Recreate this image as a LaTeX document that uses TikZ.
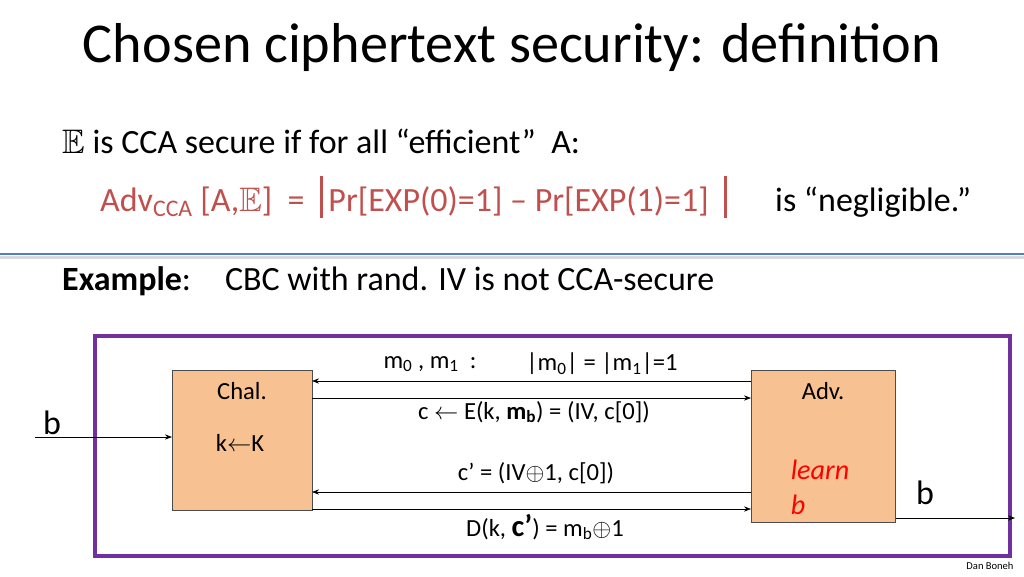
\documentclass[tikz,border=0pt]{standalone}
\usepackage{amssymb}
\usepackage{fontspec}
\setmainfont{Carlito}
\usetikzlibrary{arrows.meta}
\definecolor{redt}{HTML}{C0504D}
\definecolor{purp}{HTML}{7030A0}
\definecolor{sepb}{HTML}{4F81BD}
\definecolor{boxf}{HTML}{F8C191}
\newcommand{\bbar}{\rule[-6pt]{2.4pt}{36pt}}
\begin{document}
\begin{tikzpicture}[x=0.03cm,y=-0.03cm,
  txt/.style={inner sep=0pt,anchor=base west,font=\fontsize{29}{34}\selectfont},
  lbl/.style={inner sep=0pt,font=\fontsize{21}{24}\selectfont},
  party/.style={draw=black!70,fill=boxf,line width=0.8pt},
  msg/.style={-{Stealth[length=6pt]},line width=0.6pt}]
\useasboundingbox (0,0) rectangle (1024,576);
\node[inner sep=0pt,font=\fontsize{48}{54}\selectfont] (title) at (512,48) {Chosen ciphertext security: definition};
\node[txt] (l1) at (62,153) {$\mathbb{E}$ is CCA secure if for all “efficient”\ \ A:};
\node[txt,text=redt] (l2) at (100,211) {Adv\textsubscript{CCA} [A,$\mathbb{E}$] \ = \ \bbar\,Pr[EXP(0)=1] – Pr[EXP(1)=1] \ \bbar};
\node[txt] (l3) at (775,211) {is “negligible.”};
\fill[black!15] (0,256) rectangle (1024,259);
\draw[sepb,line width=2.5pt] (0,254) -- (1024,254);
\node[txt] (ex) at (62,290) {\textbf{Example}:\quad CBC with rand. IV is not CCA-secure};
\draw[purp,line width=4pt] (95,336) rectangle (1010,556);
\node[party,minimum width=140*0.03cm,minimum height=140*0.03cm,anchor=north west] (chal) at (172,370) {};
\node[party,minimum width=144*0.03cm,minimum height=152*0.03cm,anchor=north west] (adv) at (751,370) {};
\node[lbl] (chalt) at (242,391) {Chal.};
\node[lbl] (kk) at (240,443) {k$\leftarrow$K};
\node[lbl] (advt) at (823,391) {Adv.};
\node[inner sep=0pt,text=red,font=\fontsize{24}{30}\selectfont\itshape,align=left] (learn) at (820,487) {learn\\b};
\coordinate (a1) at (751,381); \coordinate (a1e) at (312,381);
\draw[msg] (a1) -- (a1e);
\node[lbl] (t1) at (430,364) {m\textsubscript{0} , m\textsubscript{1}\ \ :};
\node[lbl] (t1b) at (602,364) {|m\textsubscript{0}| = |m\textsubscript{1}|=1};
\coordinate (a2) at (312,398); \coordinate (a2e) at (751,398);
\draw[msg] (a2) -- (a2e);
\node[lbl] (t2) at (534,412) {c $\leftarrow$ E(k, \textbf{m\textsubscript{b}}) = (IV, c[0])};
\coordinate (a3) at (751,492); \coordinate (a3e) at (312,492);
\draw[msg] (a3) -- (a3e);
\node[lbl] (t3) at (536,473) {c’ = (IV$\oplus$1, c[0])};
\coordinate (a4) at (312,509); \coordinate (a4e) at (751,509);
\draw[msg] (a4) -- (a4e);
\node[lbl] (t4) at (545,527) {D(k, \textbf{\fontsize{26}{22}\selectfont c’}) = m\textsubscript{b}$\oplus$1};
\coordinate (bin) at (35,437);
\draw[msg] (bin) -- (chal.west |- 0,437);
\node[inner sep=0pt,font=\fontsize{29}{34}\selectfont] (b1) at (52,423) {b};
\coordinate (bout) at (1015,518);
\draw[msg] (adv.east |- 0,518) -- (bout);
\node[inner sep=0pt,font=\fontsize{29}{34}\selectfont] (b2) at (925,493) {b};
\node[inner sep=0pt,font=\fontsize{9}{10}\selectfont] (dan) at (990,566) {Dan Boneh};
\end{tikzpicture}
\end{document}
